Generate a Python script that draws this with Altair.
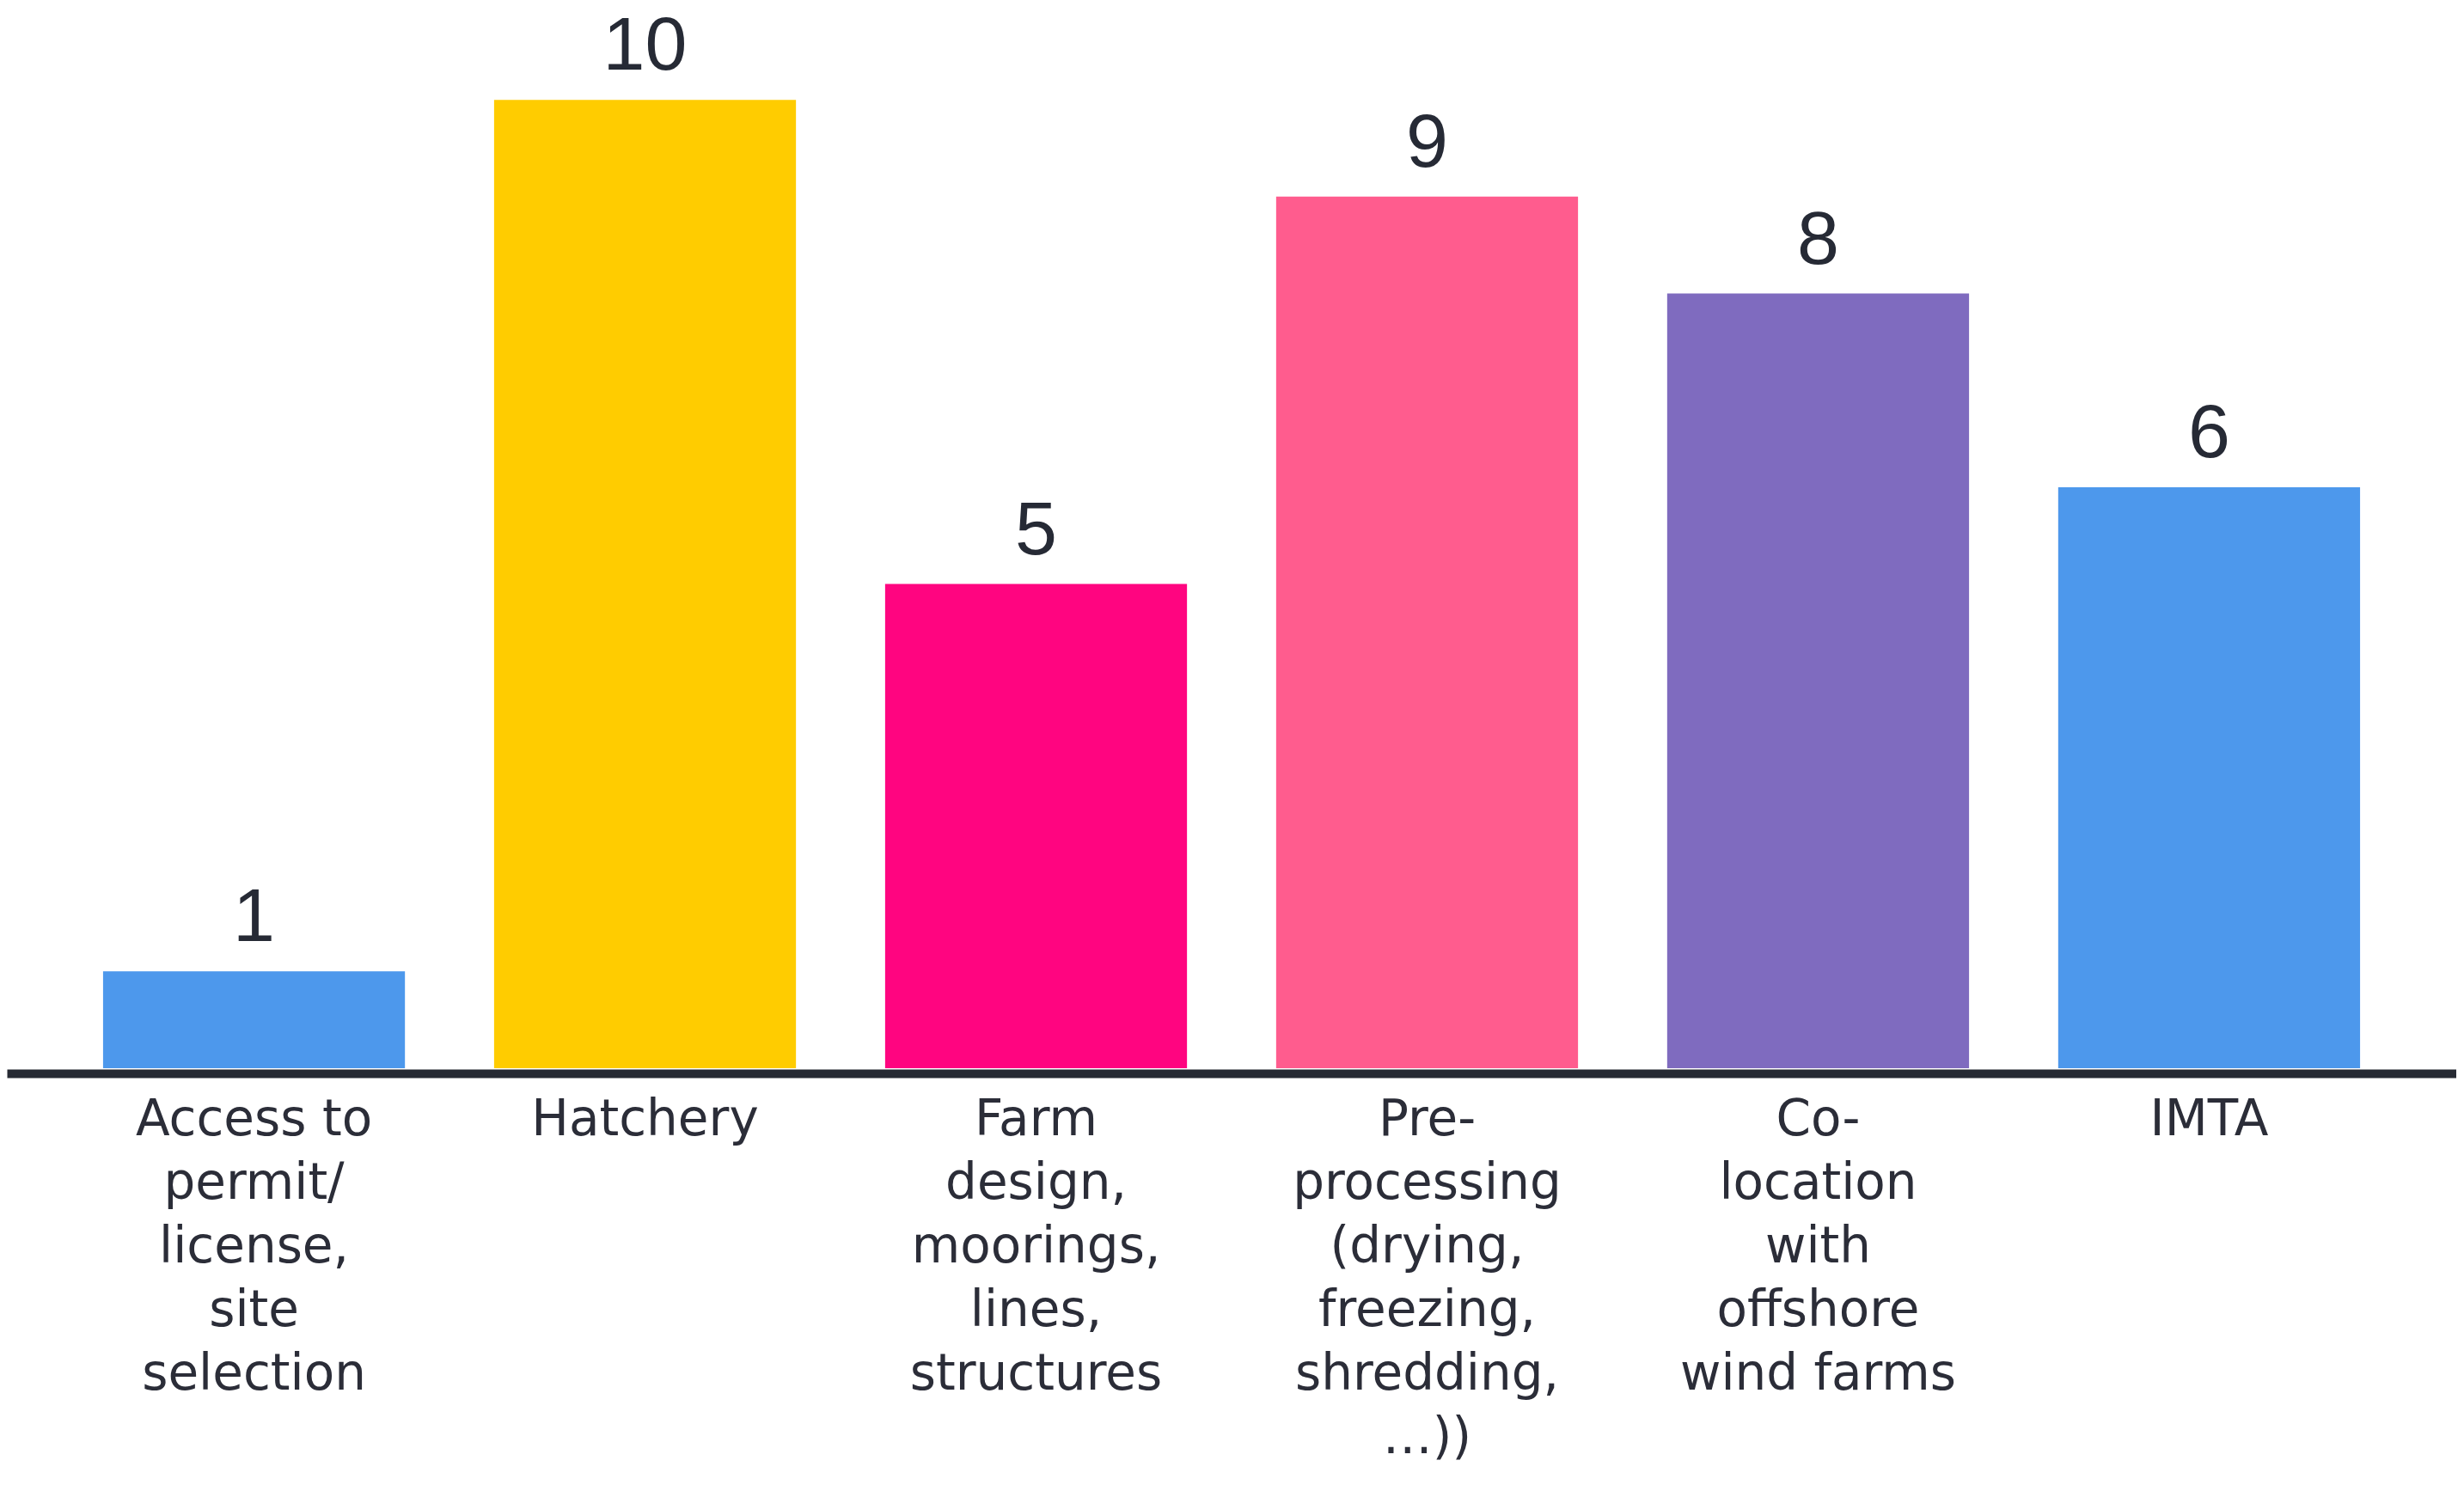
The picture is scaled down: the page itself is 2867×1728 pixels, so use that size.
import altair as alt
import pandas as pd

categories = [
    "Access to\npermit/\nlicense,\nsite\nselection",
    "Hatchery",
    "Farm\ndesign,\nmoorings,\nlines,\nstructures",
    "Pre-\nprocessing\n(drying,\nfreezing,\nshredding,\n…))",
    "Co-\nlocation\nwith\noffshore\nwind farms",
    "IMTA",
]
values = [1, 10, 5, 9, 8, 6]
colors = ["#4D98EC", "#FFCC00", "#FF0580", "#FF5C8E", "#7F6BBF", "#4D98EC"]

df = pd.DataFrame({"category": categories, "value": values})

x = alt.X(
    "category:N",
    sort=categories,
    scale=alt.Scale(paddingInner=0.228, paddingOuter=0.246),
    axis=alt.Axis(
        title=None,
        labelAngle=0,
        labelExpr="split(datum.label, '\\n')",
        labelFont="DejaVu Sans",
        labelFontSize=58,
        labelLineHeight=74,
        labelColor="#2B2D38",
        labelPadding=25,
        labelBaseline="top",
        labelAlign="center",
        labelLimit=0,
        ticks=False,
        tickSize=0,
        grid=False,
        domain=True,
        domainColor="#262A33",
        domainWidth=10,
        offset=6,
    ),
)
y = alt.Y(
    "value:Q",
    scale=alt.Scale(domain=[0, 10.96], nice=False, zero=True),
    axis=None,
)

bars = alt.Chart(df).mark_bar().encode(
    x=x,
    y=y,
    color=alt.Color(
        "category:N",
        scale=alt.Scale(domain=categories, range=colors),
        legend=None,
    ),
)

labels = alt.Chart(df).mark_text(
    font="Liberation Sans",
    fontSize=88,
    color="#262A35",
    baseline="alphabetic",
    align="center",
    dy=-35,
).encode(
    x=alt.X("category:N", sort=categories),
    y=alt.Y("value:Q"),
    text=alt.Text("value:Q"),
)

chart = (
    alt.layer(bars, labels)
    .properties(width=2850, height=1235, padding=0, background="white")
    .configure_view(stroke=None)
)

chart.save("out.html", embed_options={"renderer": "svg", "actions": False})
